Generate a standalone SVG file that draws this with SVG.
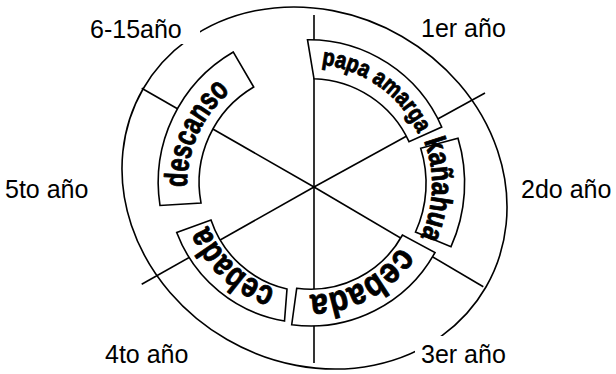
<svg xmlns="http://www.w3.org/2000/svg" width="616" height="374" viewBox="0 0 616 374">
<style>
.ln{stroke:#000;stroke-width:1.6;fill:none}
.box{stroke:#000;stroke-width:1.6;fill:#fff}
.lbl{font-family:"Liberation Sans",Arial,sans-serif;font-size:25px;fill:#000}
.wa{font-family:"Liberation Sans Narrow","Liberation Sans",Arial,sans-serif;font-weight:bold;fill:#000;stroke:#000;stroke-width:0.9;stroke-linejoin:round}
</style>
<defs>
<path id="p1" d="M321.6,64.7 A121,121 0 0 1 418.5,134.5"/>
<path id="p2" d="M423.8,140.9 A123,123 0 0 1 420.5,237"/>
<path id="p3" d="M400.2,246.5 A110,110 0 0 1 310,295"/>
<path id="p4" d="M275.3,288.7 A109,109 0 0 1 207.9,225.8"/>
<path id="p5" d="M187,187.1 A122,122 0 0 1 229,93"/>
</defs>
<g id="ring">
<ellipse cx="314.5" cy="188" rx="198" ry="175" transform="rotate(30 314.5 188)" class="ln" stroke-width="2"/>
</g>
<g id="connectors">
<line class="ln" x1="314" y1="187" x2="314" y2="15"/>
<line class="ln" x1="314" y1="187" x2="314" y2="363"/>
<line class="ln" x1="314" y1="187" x2="485" y2="93"/>
<line class="ln" x1="314" y1="187" x2="483.3" y2="286.7"/>
<line class="ln" x1="314" y1="187" x2="141.7" y2="284.3"/>
<line class="ln" x1="314" y1="187" x2="141.7" y2="88.3"/>
</g>
<g id="labels">
<rect x="85" y="10" width="115" height="34" fill="#fff"/>
<rect x="415" y="336" width="100" height="38" fill="#fff"/>
<text class="lbl" x="90" y="38">6-15año</text>
<text class="lbl" x="421" y="37">1er año</text>
<text class="lbl" x="521" y="198">2do año</text>
<text class="lbl" x="5" y="198">5to año</text>
<text class="lbl" x="105" y="363">4to año</text>
<text class="lbl" x="421" y="363">3er año</text>
</g>
<g id="year1">
<path class="box" d="M307.5,39.7 A145,145 0 0 1 441.7,127 L409,141.7 A108,108 0 0 0 314,78.8 Z"/>
<text class="wa" font-size="24"><textPath href="#p1" textLength="124" lengthAdjust="spacingAndGlyphs">papa amarga</textPath></text>
</g>
<g id="year2">
<path class="box" d="M458,138.3 A155,155 0 0 1 451,246.7 L415.5,232 A117,117 0 0 0 420.7,148.3 Z"/>
<text class="wa" font-size="30"><textPath href="#p2" textLength="98.8" lengthAdjust="spacingAndGlyphs">kañahua</textPath></text>
</g>
<g id="year3">
<path class="box" d="M435,252.5 A142,142 0 0 1 291.7,324.7 L296.7,288.3 A105,105 0 0 0 402.5,235 Z"/>
<text class="wa" font-size="36"><textPath href="#p3" textLength="106.6" lengthAdjust="spacingAndGlyphs">cebada</textPath></text>
</g>
<g id="year4">
<path class="box" d="M284.5,321 A140,140 0 0 1 176.7,232.5 L211,220 A105,105 0 0 0 287,289 Z"/>
<text class="wa" font-size="35"><textPath href="#p4" textLength="95.1" lengthAdjust="spacingAndGlyphs">cebada</textPath></text>
</g>
<g id="year5">
<path class="box" d="M160,205.5 A151,151 0 0 1 233.3,52 L253.7,87 A111,111 0 0 0 201,203 Z"/>
<text class="wa" font-size="32"><textPath href="#p5" textLength="108" lengthAdjust="spacingAndGlyphs">descanso</textPath></text>
</g>
</svg>
